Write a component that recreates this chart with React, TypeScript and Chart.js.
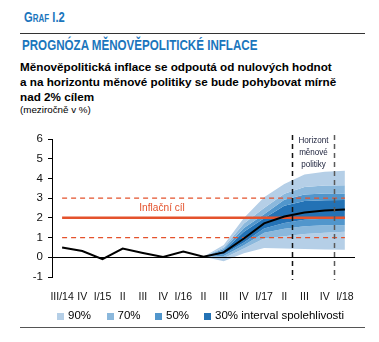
import React, { useEffect, useRef } from "react";
import { Chart, registerables } from "chart.js";

Chart.register(...registerables);

// ---------- data ----------
const quarters = ["III/14", "IV", "I/15", "II", "III", "IV", "I/16", "II", "III", "IV", "I/17", "II", "III", "IV", "I/18"];
const actual = [0.5, 0.32, -0.1, 0.44, 0.22, 0.02, 0.29, 0.03, 0.25, 0.95, 1.72, 2.07, 2.27, 2.37, 2.43];
const N = null;
const upper90 = [N, N, N, N, N, N, N, 0.03, 0.62, 1.99, 3.05, 3.72, 4.2, 4.34, 4.39];
const upper70 = [N, N, N, N, N, N, N, 0.03, 0.5, 1.71, 2.5, 3.22, 3.56, 3.64, 3.66];
const upper50 = [N, N, N, N, N, N, N, 0.03, 0.42, 1.49, 2.18, 2.92, 3.18, 3.23, 3.24];
const upper30 = [N, N, N, N, N, N, N, 0.03, 0.33, 1.29, 1.98, 2.62, 2.85, 2.89, 2.9];
const lower30 = [N, N, N, N, N, N, N, 0.03, 0.15, 0.75, 1.46, 1.74, 1.9, 1.95, 1.97];
const lower50 = [N, N, N, N, N, N, N, 0.03, 0.07, 0.61, 1.25, 1.45, 1.58, 1.62, 1.63];
const lower70 = [N, N, N, N, N, N, N, 0.03, -0.05, 0.44, 0.95, 1.07, 1.18, 1.25, 1.29];
const lower90 = [N, N, N, N, N, N, N, 0.03, -0.2, 0.2, 0.47, 0.44, 0.42, 0.4, 0.38];
const inflationTarget = 2;
const targetBandLow = 1;
const targetBandHigh = 3;
const yMin = -1;
const yMax = 6;
const horizonFrom = 11.4; // category position (between II/17 and III/17)
const horizonTo = 13.45;
const legendItems = ["90%", "70%", "50%", "30% interval spolehlivosti"];

// ---------- styles ----------
const BLUE = "#1b76bd";
const RED = "#e4522c";
const C90 = "#b5cfe7";
const C70 = "#8bb8dc";
const C50 = "#5196cc";
const C30 = "#2372b5";
const legendColors = [C90, C70, C50, C30];
const SANS = "'Liberation Sans', Arial, sans-serif";

const annotations = {
  id: "annotations",
  afterDatasetsDraw(chart: any) {
    const { ctx, chartArea, scales } = chart;
    const x = scales.x;
    const y = scales.y;
    const step = x.getPixelForValue(1) - x.getPixelForValue(0);
    const px = (v: number) => x.getPixelForValue(Math.floor(v)) + (v - Math.floor(v)) * step;
    const condensed = (t: string, cx: number, cy: number, k: number) => {
      ctx.save();
      ctx.translate(cx, cy);
      ctx.scale(k, 1);
      ctx.fillText(t, 0, 0);
      ctx.restore();
    };
    ctx.save();
    // zero line
    ctx.strokeStyle = "#000";
    ctx.lineWidth = 1;
    const y0 = Math.round(y.getPixelForValue(0)) + 0.5;
    ctx.beginPath();
    ctx.moveTo(chartArea.left, y0);
    ctx.lineTo(chartArea.right, y0);
    ctx.stroke();
    // target label
    ctx.fillStyle = RED;
    ctx.font = "11.5px " + SANS;
    ctx.textAlign = "center";
    ctx.textBaseline = "middle";
    condensed("Inflační cíl", px(4.95), y.getPixelForValue(2.5), 0.88);
    // horizon lines
    ctx.setLineDash([5, 4]);
    ctx.lineWidth = 1.5;
    const top = chartArea.top - 4;
    const bottom = chartArea.bottom + 3;
    const xa = Math.round(px(horizonFrom)) + 0.5;
    const xb = Math.round(px(horizonTo)) + 0.5;
    ctx.strokeStyle = "#111";
    ctx.beginPath();
    ctx.moveTo(xa, top);
    ctx.lineTo(xa, bottom);
    ctx.stroke();
    ctx.strokeStyle = "#5a5a5a";
    ctx.beginPath();
    ctx.moveTo(xb, top);
    ctx.lineTo(xb, bottom);
    ctx.stroke();
    ctx.setLineDash([]);
    // horizon text
    ctx.fillStyle = "#1a1f3a";
    ctx.font = "9.5px " + SANS;
    ctx.textBaseline = "middle";
    const cx = (xa + xb) / 2;
    ["Horizont", "měnové", "politiky"].forEach((t, i) => {
      condensed(t, cx, chartArea.top + 1 + i * 12, 0.85);
    });
    ctx.restore();
  },
};

function ChartCanvas() {
  const ref = useRef<HTMLCanvasElement>(null);
  useEffect(() => {
    if (!ref.current) return;
    const band = (data: (number | null)[], color: string) => ({
      data,
      borderWidth: 0,
      pointRadius: 0,
      backgroundColor: color,
      borderColor: "transparent",
      fill: "+1",
      order: 3,
      spanGaps: false,
    });
    const flat = (v: number) => quarters.map(() => v);
    const chart = new Chart(ref.current, {
      type: "line",
      data: {
        labels: quarters,
        datasets: [
          { data: actual, borderColor: "#000", borderWidth: 2, pointRadius: 0, fill: false, order: 0, tension: 0 } as any,
          { data: flat(inflationTarget), borderColor: RED, borderWidth: 2.5, pointRadius: 0, fill: false, order: 1 },
          { data: flat(targetBandLow), borderColor: RED, borderWidth: 1.2, borderDash: [5, 4], pointRadius: 0, fill: false, order: 1 },
          { data: flat(targetBandHigh), borderColor: RED, borderWidth: 1.2, borderDash: [5, 4], pointRadius: 0, fill: false, order: 1 },
          band(upper90, C90),
          band(upper70, C70),
          band(upper50, C50),
          band(upper30, C30),
          band(lower30, C50),
          band(lower50, C70),
          band(lower70, C90),
          { data: lower90, borderWidth: 0, pointRadius: 0, fill: false, order: 3, borderColor: "transparent" },
        ] as any,
      },
      options: {
        animation: false,
        responsive: false,
        layout: { padding: { left: 0, right: 24, top: 19, bottom: 0 } },
        plugins: { legend: { display: false }, tooltip: { enabled: false } },
        scales: {
          x: {
            offset: true,
            grid: { display: false, drawTicks: false },
            border: { display: false },
            ticks: {
              autoSkip: false,
              maxRotation: 0,
              minRotation: 0,
              padding: 14,
              color: "#111",
              font: { family: SANS, size: 10.5 },
            },
            afterFit: (s: any) => {
              s.height = 33;
            },
          },
          y: {
            min: yMin,
            max: yMax,
            ticks: {
              stepSize: 1,
              padding: 5,
              color: "#111",
              font: { family: SANS, size: 11.5 },
            },
            grid: {
              drawOnChartArea: false,
              drawTicks: true,
              tickLength: 4,
              tickColor: "#000",
            },
            border: { display: true, color: "#000", width: 1 },
            afterFit: (s: any) => {
              s.width = 52;
            },
          },
        },
      } as any,
      plugins: [annotations],
    });
    return () => chart.destroy();
  }, []);
  return <canvas ref={ref} width={379} height={190} style={{ position: "absolute", left: 0, top: 120, width: 379, height: 190 }} />;
}

function Txt(props: { x: number; base: number; size: number; children: any; style?: any; sx?: number }) {
  const { x, base, size, children, style, sx } = props;
  return (
    <div
      style={{
        position: "absolute",
        left: x,
        top: base - 0.8465 * size,
        fontSize: size,
        lineHeight: size + "px",
        whiteSpace: "nowrap",
        fontFamily: SANS,
        transform: sx ? `scaleX(${sx})` : undefined,
        transformOrigin: "0 0",
        ...style,
      }}
    >
      {children}
    </div>
  );
}

export default function App() {
  const legendX = [57, 106.5, 155, 204];
  return (
    <div style={{ position: "fixed", left: 0, top: 0, width: 379, height: 342, background: "#fff", overflow: "hidden" }}>
      <Txt x={24} base={22} size={14} sx={0.8} style={{ color: BLUE, fontWeight: 700, fontVariant: "small-caps" }}>
        Graf I.2
      </Txt>
      <div style={{ position: "absolute", left: 20, top: 33, width: 345, height: 1, background: "#333" }} />
      <Txt x={22} base={50} size={14.5} sx={0.8} style={{ color: BLUE, fontWeight: 700 }}>
        PROGNÓZA MĚNOVĚPOLITICKÉ INFLACE
      </Txt>
      <Txt x={20} base={71} size={11.7} style={{ fontWeight: 700, color: "#000" }}>
        Měnověpolitická inflace se odpoutá od nulových hodnot
      </Txt>
      <Txt x={20} base={86} size={11.7} style={{ fontWeight: 700, color: "#000" }}>
        a na horizontu měnové politiky se bude pohybovat mírně
      </Txt>
      <Txt x={20} base={100.5} size={11.7} style={{ fontWeight: 700, color: "#000" }}>
        nad 2% cílem
      </Txt>
      <Txt x={20} base={113} size={9.8} style={{ color: "#000" }}>
        (meziročně v %)
      </Txt>
      <ChartCanvas />
      {legendItems.map((t, i) => (
        <React.Fragment key={t}>
          <div style={{ position: "absolute", left: legendX[i], top: 312.5, width: 7, height: 7, background: legendColors[i] }} />
          <Txt x={legendX[i] + 11} base={319.5} size={11.5} style={{ color: "#000" }}>
            {t}
          </Txt>
        </React.Fragment>
      ))}
      <div style={{ position: "absolute", left: 20, top: 327, width: 345, height: 1, background: "#555" }} />
    </div>
  );
}
